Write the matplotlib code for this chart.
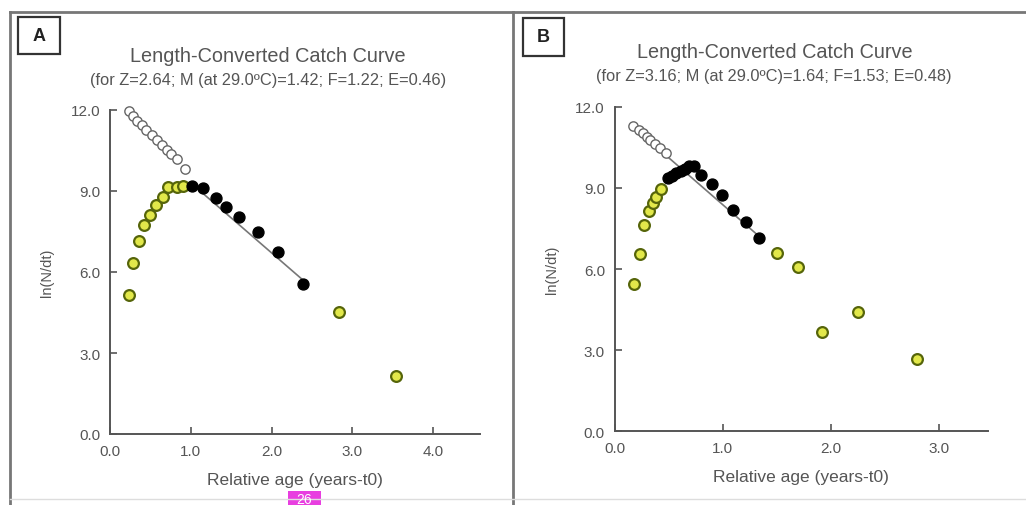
import matplotlib
matplotlib.use('Agg')
import matplotlib.pyplot as plt
from matplotlib.lines import Line2D
from matplotlib.patches import Rectangle

plt.rcParams['font.family'] = ['Liberation Sans', 'DejaVu Sans']

# Panel A data
a_open_x = [0.23, 0.29, 0.34, 0.39, 0.45, 0.52, 0.58, 0.64, 0.70, 0.76, 0.83, 0.93]
a_open_y = [11.96, 11.77, 11.61, 11.46, 11.27, 11.09, 10.90, 10.72, 10.53, 10.37, 10.20, 9.83]
a_yellow_x = [0.23, 0.28, 0.36, 0.42, 0.50, 0.57, 0.65, 0.72, 0.83, 0.90, 2.84, 3.54]
a_yellow_y = [5.14, 6.33, 7.14, 7.73, 8.12, 8.47, 8.78, 9.13, 9.16, 9.17, 4.52, 2.13]
a_black_x = [1.01, 1.15, 1.31, 1.44, 1.60, 1.83, 2.08, 2.39]
a_black_y = [9.17, 9.11, 8.73, 8.40, 8.03, 7.47, 6.73, 5.56]
a_line_x = [1.00, 2.37]
a_line_y = [9.30, 5.75]

# Panel B data
b_open_x = [0.17, 0.22, 0.26, 0.30, 0.33, 0.37, 0.42, 0.47]
b_open_y = [11.30, 11.15, 11.01, 10.89, 10.77, 10.62, 10.48, 10.28]
b_yellow_x = [0.18, 0.23, 0.27, 0.32, 0.35, 0.38, 0.43, 1.50, 1.69, 1.92, 2.25, 2.79]
b_yellow_y = [5.43, 6.55, 7.64, 8.14, 8.44, 8.68, 8.97, 6.60, 6.09, 3.66, 4.40, 2.68]
b_black_x = [0.49, 0.53, 0.57, 0.61, 0.65, 0.69, 0.73, 0.80, 0.90, 0.99, 1.09, 1.21, 1.33]
b_black_y = [9.36, 9.45, 9.55, 9.64, 9.71, 9.79, 9.82, 9.46, 9.14, 8.73, 8.17, 7.74, 7.13]
b_line_x = [0.48, 1.36]
b_line_y = [10.18, 7.12]

yticks = [0.0, 3.0, 6.0, 9.0, 12.0]
a_xticks = [0.0, 1.0, 2.0, 3.0, 4.0]
b_xticks = [0.0, 1.0, 2.0, 3.0]

W, H = 1026, 506
fig = plt.figure(figsize=(W / 100, H / 100), dpi=100)


def fx(x):
    return x / W


def fy(y):
    return 1 - y / H


def make_panel(rect, xmax, xticks, open_x, open_y, yel_x, yel_y, blk_x, blk_y, lx, ly):
    ax = fig.add_axes(rect)
    ax.set_xlim(0, xmax)
    ax.set_ylim(0, 12)
    for s in ['top', 'right']:
        ax.spines[s].set_visible(False)
    for s in ['left', 'bottom']:
        ax.spines[s].set_color('#555555')
        ax.spines[s].set_linewidth(1.4)
    ax.set_xticks(xticks)
    ax.set_yticks(yticks)
    ax.set_xticklabels([f'{t:.1f}' for t in xticks])
    ax.set_yticklabels([f'{t:.1f}' for t in yticks])
    ax.tick_params(direction='in', length=5, width=1.2, color='#555555',
                   labelsize=11, labelcolor='#555555', pad=7)
    ax.plot(lx, ly, color='#777777', lw=1.2, zorder=1)
    ax.scatter(open_x, open_y, s=45, facecolor='white', edgecolor='#666666', lw=1.0,
               zorder=2, clip_on=False)
    ax.scatter(yel_x, yel_y, s=60, facecolor='#e2e84a', edgecolor='#56650a', lw=1.6,
               zorder=3, clip_on=False)
    ax.scatter(blk_x, blk_y, s=62, facecolor='black', edgecolor='black', zorder=4,
               clip_on=False)
    ax.set_xlabel('Relative age (years-t0)', fontsize=12.5, color='#555555', labelpad=10)
    ax.set_ylabel('ln(N/dt)', fontsize=10.5, color='#555555', labelpad=12)
    return ax


ax_a = make_panel([fx(110), fy(435), fx(370), 324 / H], 4.58, a_xticks,
                  a_open_x, a_open_y, a_yellow_x, a_yellow_y, a_black_x, a_black_y,
                  a_line_x, a_line_y)
ax_b = make_panel([fx(614.7), fy(432.3), fx(373.3), 324.6 / H], 3.45, b_xticks,
                  b_open_x, b_open_y, b_yellow_x, b_yellow_y, b_black_x, b_black_y,
                  b_line_x, b_line_y)

# titles
title_col = '#555555'
fig.text(fx(268), fy(57), 'Length-Converted Catch Curve', ha='center', va='center',
         fontsize=14.3, color=title_col)
fig.text(fx(268), fy(80), '(for Z=2.64; M (at 29.0ºC)=1.42; F=1.22; E=0.46)', ha='center',
         va='center', fontsize=11.8, color=title_col)
fig.text(fx(775), fy(53), 'Length-Converted Catch Curve', ha='center', va='center',
         fontsize=14.3, color=title_col)
fig.text(fx(774), fy(76), '(for Z=3.16; M (at 29.0ºC)=1.64; F=1.53; E=0.48)', ha='center',
         va='center', fontsize=11.8, color=title_col)

# outer frame and divider
frame_col = '#777777'
fig.add_artist(Line2D([fx(10), fx(1026)], [fy(13), fy(13)], color=frame_col, lw=2))
fig.add_artist(Line2D([fx(10), fx(10)], [fy(13), fy(506)], color=frame_col, lw=2))
fig.add_artist(Line2D([fx(513), fx(513)], [fy(13), fy(506)], color=frame_col, lw=2))
fig.add_artist(Line2D([fx(10), fx(1026)], [fy(500), fy(500)], color='#dddddd', lw=1))

# panel letters
for (x0, y0, x1, y1, letter) in [(18, 18, 60, 55, 'A'), (523, 19, 564, 57, 'B')]:
    fig.add_artist(Rectangle((fx(x0), fy(y1)), fx(x1 - x0), (y1 - y0) / H,
                             fill=False, edgecolor='#333333', lw=1.6))
    fig.text(fx((x0 + x1) / 2), fy((y0 + y1) / 2), letter, ha='center', va='center',
             fontsize=13, fontweight='bold', color='#222222')

# page-number badge
fig.add_artist(Rectangle((fx(288), 0), fx(33), 14 / H, facecolor='#e83ee0',
                         edgecolor='none'))
fig.text(fx(304.5), fy(500), '26', ha='center', va='center', fontsize=10, color='white')

fig.savefig('out.png', dpi=100)
